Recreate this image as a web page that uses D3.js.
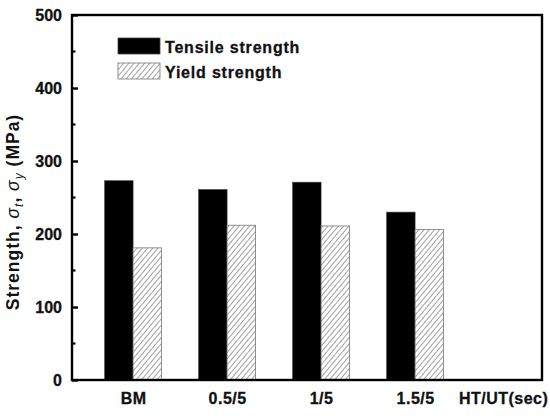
<!DOCTYPE html>
<html><head><meta charset="utf-8">
<script src="https://cdn.jsdelivr.net/npm/d3@7"></script>
<style>body{margin:0;background:#fff}svg{display:block}</style>
</head><body>
<script>
const categories = ["BM", "0.5/5", "1/5", "1.5/5"];
const tensile = [273, 261, 271, 230];
const yieldS = [181, 212, 211, 206];
const yTicks = [0, 100, 200, 300, 400, 500];
const xLabelEnd = "HT/UT(sec)";

const W = 550, H = 416;
const m = {l: 72, r: 8, t: 15, b: 36};
const svg = d3.select("body").append("svg").attr("width", W).attr("height", H);
const defs = svg.append("defs");
const pat = defs.append("pattern").attr("id", "hatch").attr("patternUnits", "userSpaceOnUse")
  .attr("width", 4).attr("height", 4).attr("patternTransform", "rotate(40)");
pat.append("rect").attr("width", 4).attr("height", 4).attr("fill", "#fff");
pat.append("line").attr("x1", 0).attr("y1", 0).attr("x2", 0).attr("y2", 4)
  .attr("stroke", "#444").attr("stroke-width", 1);

const x = d3.scaleLinear().domain([0.35, 5.35]).range([m.l, W - m.r]);
const y = d3.scaleLinear().domain([0, 500]).range([H - m.b, m.t]);
const bw = 28.5;
const font = "Arial, 'Liberation Sans', sans-serif";

const g = svg.append("g");
g.selectAll(".t").data(tensile).join("rect")
  .attr("x", (d, i) => x(i + 1) - bw).attr("width", bw)
  .attr("y", d => y(d)).attr("height", d => y(0) - y(d))
  .attr("fill", "#000").attr("stroke", "#444").attr("stroke-width", 0.6);
g.selectAll(".yb").data(yieldS).join("rect")
  .attr("x", (d, i) => x(i + 1)).attr("width", bw)
  .attr("y", d => y(d)).attr("height", d => y(0) - y(d))
  .attr("fill", "url(#hatch)").attr("stroke", "#777").attr("stroke-width", 0.8);

svg.append("rect").attr("x", m.l).attr("y", m.t).attr("width", W - m.r - m.l).attr("height", H - m.b - m.t)
  .attr("fill", "none").attr("stroke", "#000").attr("stroke-width", 2.4);

const yAxis = d3.axisLeft(y).tickValues(yTicks).tickSize(-6).tickPadding(10);
const ya = svg.append("g").attr("transform", `translate(${m.l},0)`).call(yAxis);
ya.select(".domain").remove();
ya.selectAll(".tick line").attr("stroke-width", 2.4);
ya.selectAll("text").attr("font-family", font).attr("font-weight", "bold").attr("font-size", 16)
  .attr("fill", "#111").attr("stroke", "#111").attr("stroke-width", 0.3);
const minor = d3.range(50, 500, 100);
svg.append("g").selectAll("line").data(minor).join("line")
  .attr("x1", m.l).attr("x2", m.l + 3.5).attr("y1", d => y(d)).attr("y2", d => y(d))
  .attr("stroke", "#000").attr("stroke-width", 2.2);

const xa = svg.append("g").attr("transform", `translate(0,${H - m.b})`)
  .call(d3.axisBottom(x).tickValues([1, 2, 3, 4, 5]).tickSize(0).tickPadding(13)
    .tickFormat((d, i) => i < 4 ? categories[i] : xLabelEnd));
xa.select(".domain").remove();
xa.selectAll("text").attr("font-family", font).attr("font-weight", "bold").attr("font-size", 16)
  .attr("letter-spacing", 0.5).attr("fill", "#111").attr("stroke", "#111").attr("stroke-width", 0.3);
xa.selectAll(".tick").filter((d, i) => i === 4).select("text").attr("dx", -6);

const yt = svg.append("text").attr("transform", `translate(19,212) rotate(-90)`)
  .attr("text-anchor", "middle").attr("font-family", font).attr("font-weight", "bold")
  .attr("font-size", 17.5).attr("letter-spacing", 1).attr("fill", "#111");
yt.append("tspan").text("Strength, ");
yt.append("tspan").attr("font-style", "italic").attr("font-weight", "normal").text("σ");
yt.append("tspan").attr("font-style", "italic").attr("font-weight", "normal").attr("font-size", 12).attr("dy", 4).text("t");
yt.append("tspan").attr("dy", -4).text(", ");
yt.append("tspan").attr("font-style", "italic").attr("font-weight", "normal").text("σ");
yt.append("tspan").attr("font-style", "italic").attr("font-weight", "normal").attr("font-size", 12).attr("dy", 4).text("y");
yt.append("tspan").attr("dy", -4).text(" (MPa)");

const leg = [{label: "Tensile strength", fill: "#000", stroke: "#444"}, {label: "Yield strength", fill: "url(#hatch)", stroke: "#777"}];
const lg = svg.append("g").selectAll("g").data(leg).join("g")
  .attr("transform", (d, i) => `translate(118,${38 + i * 25})`);
lg.append("rect").attr("width", 42).attr("height", 16).attr("fill", d => d.fill).attr("stroke", d => d.stroke).attr("stroke-width", 0.8);
lg.append("text").attr("x", 47).attr("y", 14.5).text(d => d.label)
  .attr("font-family", font).attr("font-weight", "bold").attr("font-size", 16)
  .attr("letter-spacing", 0.8).attr("fill", "#111").attr("stroke", "#111").attr("stroke-width", 0.3);
</script>
</body></html>
